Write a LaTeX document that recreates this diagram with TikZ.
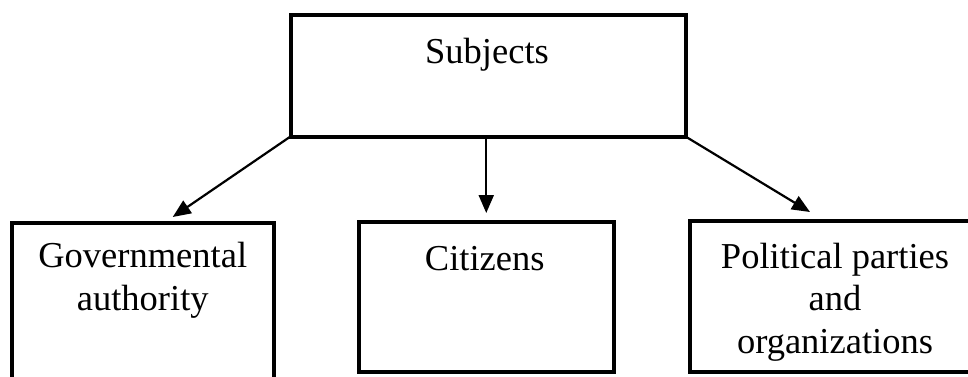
\documentclass[tikz,border=0pt]{standalone}
\usepackage{fontspec}
\setmainfont{Liberation Serif}
\usetikzlibrary{arrows.meta,positioning}

\tikzset{
	box/.style={draw, line width=4pt, rectangle, inner sep=0pt, outer sep=0pt},
	boxtext/.style={anchor=base, align=center, inner sep=0pt, font=\fontsize{36.5}{42.5}\selectfont},
	link/.style={line width=2.2pt, -{Triangle[length=18pt,width=15pt]}}
}

\begin{document}
\begin{tikzpicture}[x=1pt,y=1pt]
			\path[use as bounding box, clip] (0,0) rectangle (968,376);

			\node[box, minimum width=395pt, minimum height=121.5pt] (subj) at (488,300.25) {};
			\node[box, minimum width=262.5pt, minimum height=172pt] (gov) at (142.75,67) {};
			\node[box, minimum width=255.5pt, minimum height=150pt] (cit) at (486.25,79) {};
			\node[box, minimum width=291pt, minimum height=151.5pt] (pol) at (835,79.75) {};

			% base anchor sits on the last line
			\node[boxtext] (subjtxt) at ([xshift=-1pt,yshift=-48pt]subj.north) {Subjects};
			\node[boxtext] (govtxt) at ([yshift=-87pt]gov.north) {Governmental\\authority};
			\node[boxtext] (cittxt) at ([xshift=-1.5pt,yshift=-48pt]cit.north) {Citizens};
			\node[boxtext] (poltxt) at ([yshift=-132.5pt]pol.north) {Political parties\\and\\organizations};

			\draw[link] (subj.south west) -- ([xshift=30pt,yshift=6pt]gov.north);
			\draw[link] (cit.north |- subj.south) -- ([yshift=9pt]cit.north);
			\draw[link] (subj.south east) -- ([xshift=-25pt,yshift=8.5pt]pol.north);
		\end{tikzpicture}
\end{document}
